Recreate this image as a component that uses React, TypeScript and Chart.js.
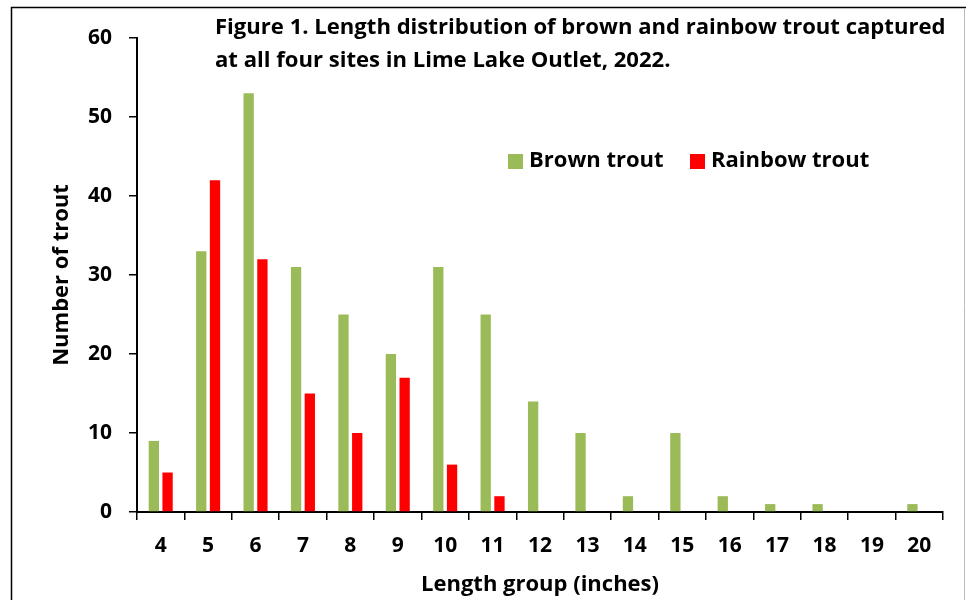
import React, { useEffect, useRef } from "react";
import { Chart, registerables } from "chart.js";

Chart.register(...registerables);

const lengthGroups = ["4", "5", "6", "7", "8", "9", "10", "11", "12", "13", "14", "15", "16", "17", "18", "19", "20"];
const brownTrout = [9, 33, 53, 31, 25, 20, 31, 25, 14, 10, 2, 10, 2, 1, 1, 0, 1];
const rainbowTrout = [5, 42, 32, 15, 10, 17, 6, 2, 0, 0, 0, 0, 0, 0, 0, 0, 0];
const titleLines = [
  "Figure 1. Length distribution of brown and rainbow trout captured",
  "at all four sites in Lime Lake Outlet, 2022.",
];
const seriesNames = ["Brown trout", "Rainbow trout"];
const seriesColors = ["#9BBB59", "#FF0000"];

const FONT = "'Open Sans', sans-serif";

const decorPlugin = {
  id: "decor",
  beforeDraw(chart: any) {
    const { ctx } = chart;
    ctx.save();
    ctx.fillStyle = "#fff";
    ctx.fillRect(0, 0, chart.width, chart.height);
    ctx.strokeStyle = "#000";
    ctx.lineWidth = 1.5;
    ctx.beginPath();
    ctx.moveTo(11.5, 640);
    ctx.lineTo(11.5, 7.5);
    ctx.lineTo(966, 7.5);
    ctx.stroke();
    ctx.strokeStyle = "#bbb";
    ctx.lineWidth = 1;
    ctx.beginPath();
    ctx.moveTo(964.5, 8);
    ctx.lineTo(964.5, 640);
    ctx.stroke();
    ctx.restore();
  },
  afterDraw(chart: any) {
    const { ctx } = chart;
    ctx.save();
    ctx.fillStyle = "#000";
    ctx.font = `bold 20px ${FONT}`;
    const w = ctx.measureText(titleLines[0]).width;
    const size = (20 * 731) / w;
    ctx.font = `bold ${size}px ${FONT}`;
    ctx.textBaseline = "middle";
    ctx.textAlign = "left";
    ctx.fillText(titleLines[0], 215, 28);
    ctx.fillText(titleLines[1], 215, 61);
    ctx.font = `bold 22px ${FONT}`;
    const items = [
      { x: 508, name: seriesNames[0], color: seriesColors[0] },
      { x: 690, name: seriesNames[1], color: seriesColors[1] },
    ];
    items.forEach((it) => {
      ctx.fillStyle = it.color;
      ctx.fillRect(it.x, 154, 15, 15);
      ctx.fillStyle = "#000";
      ctx.fillText(it.name, it.x + 21, 161);
    });
    ctx.restore();
  },
};

export default function App() {
  const ref = useRef<HTMLCanvasElement | null>(null);
  useEffect(() => {
    if (!ref.current) return;
    const tickFont = { family: FONT, size: 21, weight: "bold" as const };
    const axisTitleFont = { family: FONT, size: 22, weight: "bold" as const };
    const chart = new Chart(ref.current, {
      type: "bar",
      data: {
        labels: lengthGroups,
        datasets: [
          {
            label: seriesNames[0],
            data: brownTrout,
            backgroundColor: seriesColors[0],
            barPercentage: 0.75,
            categoryPercentage: 0.58,
          },
          {
            label: seriesNames[1],
            data: rainbowTrout,
            backgroundColor: seriesColors[1],
            barPercentage: 0.75,
            categoryPercentage: 0.58,
          },
        ],
      },
      options: {
        animation: false,
        responsive: false,
        layout: { padding: { top: 38, right: 28, left: 0, bottom: 0 } },
        plugins: {
          legend: { display: false },
          title: { display: false },
          tooltip: { enabled: false },
        },
        scales: {
          x: {
            offset: true,
            grid: {
              offset: true,
              drawOnChartArea: false,
              drawTicks: true,
              tickLength: 8,
              color: "#000",
              lineWidth: 1.5,
            },
            border: { display: true, color: "#000", width: 2 },
            ticks: { color: "#000", font: tickFont, padding: 13, maxRotation: 0, autoSkip: false },
            title: {
              display: true,
              text: "Length group (inches)",
              color: "#000",
              font: axisTitleFont,
              padding: { top: 0, bottom: 2 },
            },
            afterFit(scale: any) {
              scale.height = 88;
            },
          },
          y: {
            min: 0,
            max: 60,
            ticks: { stepSize: 10, color: "#000", font: tickFont, padding: 17 },
            grid: {
              drawOnChartArea: false,
              drawTicks: true,
              tickLength: 8,
              color: "#000",
              lineWidth: 1.5,
            },
            border: { display: true, color: "#000", width: 2 },
            title: {
              display: true,
              text: "Number of trout",
              color: "#000",
              font: axisTitleFont,
              padding: { top: 49, bottom: 0 },
            },
            afterFit(scale: any) {
              scale.width = 137;
            },
          },
        },
      },
      plugins: [decorPlugin],
    });
    return () => chart.destroy();
  }, []);
  return (
    <div style={{ position: "absolute", left: 0, top: 0, width: 971, height: 600 }}>
      <canvas ref={ref} width={971} height={600} style={{ display: "block" }} />
    </div>
  );
}
